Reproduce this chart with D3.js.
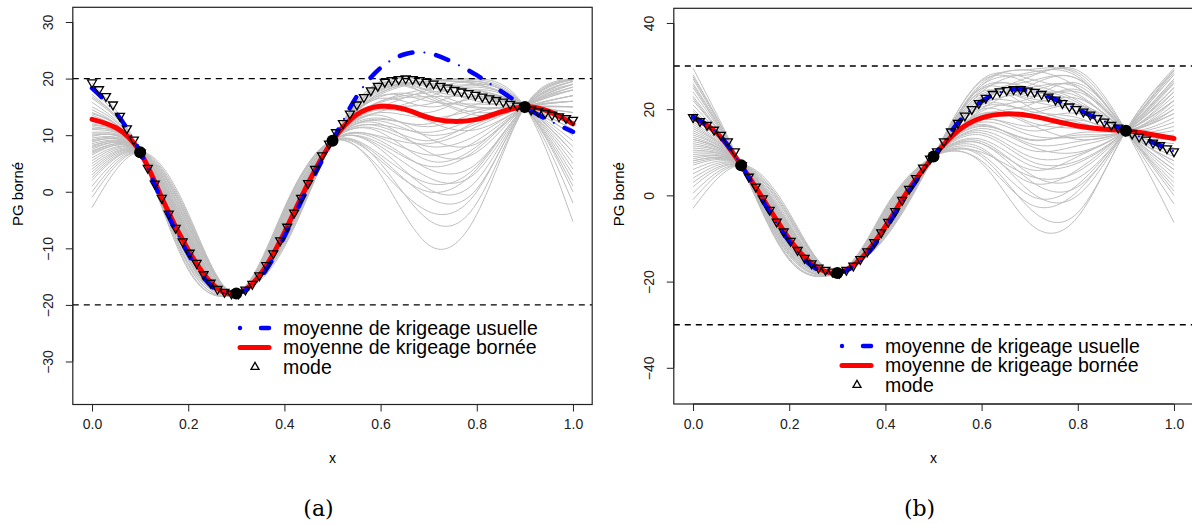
<!DOCTYPE html>
<html><head><meta charset="utf-8">
<script src="https://cdn.jsdelivr.net/npm/d3@7"></script>
<style>body{margin:0;background:#fff;} svg{display:block;}</style>
</head><body><svg id="c" width="1192" height="524"></svg>
<script>
// ---------- data ----------
const obsX = [0.1, 0.3, 0.5, 0.9];
const obsY = [7, -18, 9, 15];
const knotX = [0, 0.1, 0.2, 0.3, 0.4, 0.5, 0.6, 0.7, 0.8, 0.9, 1.0];
const freeKnotX = [0, 0.2, 0.4, 0.6, 0.7, 0.8, 1.0];
const meanX = [0,0.05,0.1,0.15,0.2,0.25,0.3,0.35,0.4,0.45,0.5,0.55,0.6,0.65,0.7,0.75,0.8,0.85,0.9,0.95,1.0];
const xTicks = [0, 0.2, 0.4, 0.6, 0.8, 1.0];
const yTicksA = [-30, -20, -10, 0, 10, 20, 30];
const yTicksB = [-40, -20, 0, 20, 40];
const boundsA = [-20, 20];
const boundsB = [-30, 30];
const legendLabels = ["moyenne de krigeage usuelle", "moyenne de krigeage bornée", "mode"];
const panelTitles = ["(a)", "(b)"];

const blueA = [18.3, 13.9, 7.0, -2.6, -11.0, -16.8, -18.0, -15.2, -7.9, 0.9, 9.0, 16.8, 21.9, 24.3, 24.5, 22.9, 20.6, 17.8, 15.0, 12.6, 10.6];
const redA  = [12.8, 11.3, 7.0, -2.0, -10.3, -16.3, -18.0, -14.6, -7.2, 1.6, 9.0, 13.6, 15.1, 14.6, 13.1, 12.45, 12.8, 14.1, 15.0, 14.2, 12.0];
const modeA = [19.3, 18.1, 16.9, 15.4, 13.4, 11.2, 9.2, 6.9,
  4.2, 1.4, -1.1, -3.9, -6.4, -8.8, -10.8, -12.6, -14.6, -16.1, -17.2, -17.7, -18.0, -18.0,
  -17.3, -16.3, -14.8, -13.0, -10.9, -8.6, -6.2, -3.7, -1.1, 1.5, 4.0, 6.4, 8.5,
  10.5, 12.1, 13.8, 15.4, 16.7, 17.9, 18.7, 19.4, 19.7, 19.9, 20.0, 19.9, 19.7, 19.4, 19.1,
  18.7, 18.4, 18.0, 17.7, 17.4, 17.1, 16.8, 16.5, 16.2, 15.9, 15.5, 15.2, 15.0, 14.5, 14.2,
  13.9, 13.6, 13.3, 13.0, 12.7];

const blueB = [18.2, 14.5, 7.0, -2.2, -10.7, -16.6, -18.0, -15.1, -7.8, 1.0, 9.0, 16.7, 21.8, 24.3, 24.3, 22.4, 19.9, 17.4, 15.0, 12.6, 10.2];
const redB  = [18.0, 14.4, 7.0, -1.6, -10.1, -16.1, -18.0, -14.6, -7.2, 1.6, 9.0, 14.9, 18.0, 18.9, 18.5, 17.3, 16.1, 15.4, 15.0, 14.2, 13.2];
const modeB = [18.1, 17.2, 16.3, 15.2, 14.0, 12.5, 10.2, 7.0,
  4.3, 2.0, -0.7, -3.4, -6.1, -8.4, -10.6, -12.7, -14.5, -15.8, -16.8, -17.3, -17.7, -18.0,
  -17.3, -16.3, -14.8, -13.0, -10.9, -8.6, -6.2, -3.7, -1.1, 1.5, 4.0, 6.4, 8.5,
  10.2, 12.5, 14.8, 16.8, 18.5, 20.0, 21.4, 22.6, 23.5, 24.1, 24.4, 24.6, 24.6, 24.3, 24.0,
  23.5, 22.9, 22.2, 21.4, 20.6, 20.0, 19.4, 18.7, 17.9, 17.1, 16.3, 15.7, 15.0, 14.3, 13.6,
  12.9, 12.2, 11.6, 10.9, 10.2];

// sample paths: values at freeKnotX [0, 0.2, 0.4, 0.6, 0.7, 0.8, 1.0]
const grayA = [
  [19.2,-13.8,-9.5,19.5,19.8,19.0,6],[18.0,-13.0,-8.0,19.0,19.9,19.5,3],[17.2,-12.5,-9.0,18.5,19.0,18.0,9],
  [16.5,-12.8,-7.5,17.5,19.5,19.8,-2],[15.8,-11.5,-8.5,18.8,18.5,17.0,12],[15.0,-12.0,-6.5,16.0,17.5,18.5,5],
  [14.5,-11.0,-7.0,17.0,16.0,15.5,14],[14.0,-11.8,-9.8,19.2,17.0,14.0,16],[13.5,-10.5,-6.0,15.0,18.0,19.5,1],
  [13.0,-11.2,-8.2,17.8,19.2,17.5,10],[12.5,-10.8,-5.5,14.0,13.0,14.5,15],[12.0,-10.0,-7.8,16.5,15.0,16.5,13],
  [11.8,-10.5,-6.8,15.5,12.5,11.0,18],[11.5,-9.5,-8.8,18.0,18.8,16.0,12],[11.0,-10.2,-5.0,12.5,10.0,12.0,17],
  [10.5,-9.8,-7.2,16.8,16.5,13.5,17],[10.2,-9.0,-6.2,13.5,9.5,8.5,19],[10.0,-9.6,-4.5,11.0,8.0,10.0,18],
  [9.5,-8.8,-7.5,17.2,19.5,20.0,-5.3],[9.2,-9.2,-6.0,14.5,14.0,17.0,8],[9.0,-8.5,-3.8,9.0,4.0,5.0,19.5],
  [8.8,-9.0,-8.0,18.2,17.8,15.0,15],[8.5,-8.2,-5.8,13.0,11.5,14.0,14],[8.2,-8.0,-4.2,7.5,0.5,2.0,19.8],
  [8.0,-8.6,-6.5,15.2,13.5,12.5,16],[7.8,-7.8,-3.5,5.0,-5.0,-2.0,19.8],[7.5,-8.4,-7.0,16.0,18.2,18.8,4],
  [7.2,-7.5,-5.2,12.0,7.0,7.0,19],[7.0,-7.8,-6.8,14.8,15.5,18.0,7],[6.8,-7.2,-2.8,3.0,-9.4,-4.0,19.9],
  [6.5,-7.6,-5.5,11.5,9.0,12.5,16],[6.0,-7.0,-4.0,8.0,2.5,3.5,19.5],[5.5,-6.8,-6.2,15.8,16.8,16.8,10],
  [5.0,-6.5,-4.8,10.5,5.5,8.0,18],[4.5,-6.2,-3.2,4.0,-3.5,0.0,19.9],[4.0,-6.0,-5.0,12.8,12.0,15.5,11],
  [3.5,-5.8,-6.0,14.2,16.8,19.0,2],[3.0,-5.5,-4.5,9.5,6.5,9.0,18.5],[2.5,-5.2,-3.0,6.0,-1.0,0.5,19.8],
  [2.0,-5.0,-4.8,11.8,10.5,13.0,15],[1.0,-4.8,-4.0,9.8,8.5,11.5,17],[0.0,-4.5,-3.6,6.5,1.5,4.5,19],
  [-1.0,-4.2,-3.3,8.5,4.5,7.5,18.5],[-2.8,-3.8,-3.0,5.5,0.0,4.0,19.5],[16.8,-13.5,-8.6,19.0,18.0,16.5,11],
  [13.8,-12.0,-9.2,19.5,19.0,17.8,7],[11.2,-11.5,-8.0,18.5,17.2,14.8,13],[9.8,-10.8,-7.2,17.5,19.6,19.2,0]
];
const grayB = [
  [29.5,-15.0,-9.5,24.0,28.5,27.5,4],[28.0,-14.5,-8.5,25.5,29.0,25.0,8],[27.0,-14.0,-9.8,26.5,26.0,22.0,13],
  [26.0,-13.8,-7.8,22.0,27.5,28.5,-2],[25.0,-13.0,-9.0,25.0,24.5,21.0,15],[24.0,-13.2,-7.0,20.0,25.5,27.0,2],
  [23.0,-12.5,-8.2,23.5,22.0,19.5,18],[22.0,-12.8,-9.6,26.8,27.0,23.5,10],[21.0,-12.0,-6.5,18.5,21.0,24.5,6],
  [20.0,-11.8,-8.0,22.5,23.8,23.0,12],[19.0,-11.5,-6.0,17.5,16.0,17.5,20],[18.0,-11.0,-7.5,21.0,19.5,18.0,22],
  [17.0,-11.2,-9.2,25.5,28.0,29.0,-6.3],[16.0,-10.5,-5.5,16.0,13.0,14.0,24],[15.5,-10.8,-7.0,20.5,20.0,21.0,14],
  [15.0,-10.0,-8.8,24.5,25.0,21.5,16],[14.5,-9.8,-5.0,14.5,9.0,9.5,26],[14.0,-10.2,-6.6,19.0,18.0,19.0,17],
  [13.5,-9.5,-4.5,12.5,5.0,4.0,28],[13.0,-9.6,-7.6,22.8,26.5,27.0,0],[12.5,-9.2,-6.2,17.8,15.0,16.5,21],
  [12.0,-8.8,-4.0,11.0,1.0,0.0,29],[11.5,-9.0,-8.0,23.0,22.5,20.5,11],[11.0,-8.5,-5.8,16.5,12.0,12.5,23],
  [10.5,-8.2,-3.6,9.0,-3.0,-4.0,29.5],[10.0,-8.6,-7.2,21.5,21.5,22.5,9],[9.5,-8.0,-5.2,15.0,10.5,11.5,25],
  [9.0,-7.8,-3.2,7.5,-6.5,-5.0,29.0],[8.5,-8.4,-6.8,20.0,17.0,15.5,19],[8.0,-7.5,-4.8,13.0,7.0,7.5,27],
  [7.5,-7.2,-6.0,18.0,19.0,21.0,7],[7.0,-7.0,-4.2,12.0,3.5,2.0,28.5],[6.0,-6.8,-5.8,17.0,14.0,13.5,22],
  [5.0,-6.5,-3.8,10.5,3.0,6.0,26],[4.0,-6.0,-5.0,15.5,11.5,10.0,24],[3.0,-5.5,-3.4,9.5,0.0,2.5,28],
  [2.0,-5.2,-4.6,14.0,8.0,8.0,26.5],[0.5,-4.8,-3.0,8.0,-2.0,1.0,29],[-1.0,-4.5,-4.0,12.0,6.0,9.0,25],
  [-3.0,-4.0,-2.8,10.0,4.5,5.5,27],[27.5,-14.8,-9.0,24.8,23.0,24.0,6],[25.5,-13.5,-8.8,26.0,29.2,28.0,3],
  [22.5,-12.2,-7.2,21.0,24.0,25.5,5],[19.5,-11.0,-8.5,24.0,20.5,17.0,19],[16.5,-10.5,-6.4,19.5,22.5,26.0,1],
  [18.5,-11.6,-7.8,22.0,25.0,25.0,8],[13.0,-9.8,-6.5,18.8,16.5,13.0,22],[8.0,-7.6,-5.4,16.2,12.8,14.5,20]
];

// ---------- drawing ----------
const SANS = "'Liberation Sans', Arial, Helvetica, sans-serif";
const SERIF = "'DejaVu Serif', 'Liberation Serif', serif";
const svg = d3.select("#c");
const modeX = d3.range(modeA.length).map(i => i / (modeA.length - 1));

function knots(c) {
  const vals = new Map();
  freeKnotX.forEach((xv, i) => vals.set(xv, c[i]));
  obsX.forEach((xv, i) => vals.set(xv, obsY[i]));
  return knotX.map(xv => [xv, vals.get(xv)]);
}

function drawPanel(P) {
  const g = svg.append("g");
  const x = d3.scaleLinear().domain([-0.04, 1.04]).range([P.left, P.right]);
  const y = d3.scaleLinear().domain(P.yDomain).range([P.bottom, P.top]);
  const line = d3.line().x(d => x(d[0])).y(d => y(d[1])).curve(d3.curveNatural);

  const clipId = "clip" + P.id;
  svg.append("clipPath").attr("id", clipId).append("rect")
    .attr("x", P.left).attr("y", P.top).attr("width", P.right - P.left).attr("height", P.bottom - P.top);
  const plot = g.append("g").attr("clip-path", `url(#${clipId})`);

  plot.selectAll("path.gray").data(P.gray).join("path").attr("class", "gray")
    .attr("d", c => line(knots(c)))
    .attr("fill", "none").attr("stroke", "#bebebe").attr("stroke-width", 1);

  plot.selectAll("line.bound").data(P.bounds).join("line").attr("class", "bound")
    .attr("x1", P.left).attr("x2", P.right).attr("y1", d => y(d)).attr("y2", d => y(d))
    .attr("stroke", "#000").attr("stroke-width", 1.4).attr("stroke-dasharray", "6,5");

  plot.append("path").attr("d", line(meanX.map((xv, i) => [xv, P.red[i]])))
    .attr("fill", "none").attr("stroke", "#ff0000").attr("stroke-width", 5)
    .attr("stroke-linecap", "round");

  const blueD = line(meanX.map((xv, i) => [xv, P.blue[i]]));
  plot.append("path").attr("d", blueD)
    .attr("fill", "none").attr("stroke", "#0000ff").attr("stroke-width", 4.5)
    .attr("stroke-linecap", "round").attr("stroke-dasharray", "13,24");
  plot.append("path").attr("d", blueD)
    .attr("fill", "none").attr("stroke", "#0000ff").attr("stroke-width", 2)
    .attr("stroke-linecap", "round").attr("stroke-dasharray", "0.1,36.9").attr("stroke-dashoffset", -25);

  const tri = "M0,5.2L4.5,-2.6L-4.5,-2.6Z";
  plot.selectAll("path.mode").data(P.mode).join("path").attr("class", "mode")
    .attr("transform", (d, i) => `translate(${x(modeX[i])},${y(d)})`)
    .attr("d", tri).attr("fill", "none").attr("stroke", "#000").attr("stroke-width", 1.3);

  plot.selectAll("circle.obs").data(obsX).join("circle").attr("class", "obs")
    .attr("cx", d => x(d)).attr("cy", (d, i) => y(obsY[i])).attr("r", 6).attr("fill", "#000");

  g.append("rect").attr("x", P.left).attr("y", P.top).attr("width", P.right - P.left)
    .attr("height", P.bottom - P.top).attr("fill", "none").attr("stroke", "#222").attr("stroke-width", 1.2);

  const ax = g.append("g").attr("transform", `translate(0,${P.bottom})`)
    .call(d3.axisBottom(x).tickValues(xTicks).tickFormat(d3.format(".1f")).tickSize(7).tickPadding(8));
  ax.select(".domain").attr("d", `M${x(0)},0H${x(1)}`).attr("stroke", "#222");
  ax.selectAll("text").style("font-size", "14px").style("font-family", SANS).attr("fill", "#222");
  ax.selectAll(".tick line").attr("stroke", "#222");

  const ay = g.append("g").attr("transform", `translate(${P.left},0)`)
    .call(d3.axisLeft(y).tickValues(P.yTicks).tickFormat(d3.format("d")).tickSize(7));
  ay.select(".domain").attr("d", `M0,${y(P.yTicks[0])}V${y(P.yTicks[P.yTicks.length - 1])}`).attr("stroke", "#222");
  ay.selectAll(".tick line").attr("stroke", "#222");
  ay.selectAll("text").attr("x", null).attr("dy", "0.35em").attr("text-anchor", "middle")
    .attr("transform", "translate(-25,0) rotate(-90)")
    .style("font-size", "14px").style("font-family", SANS).attr("fill", "#222");

  g.append("text").attr("x", x(0.5)).attr("y", 463).attr("text-anchor", "middle")
    .style("font-size", "14px").style("font-family", SANS).text("x");
  g.append("text").attr("transform", `translate(${P.left - 50},${(P.top + P.bottom) / 2 - 12}) rotate(-90)`)
    .attr("text-anchor", "middle").style("font-size", "15px").style("font-family", SANS).text("PG borné");
  g.append("text").attr("x", x(0.5) - 14).attr("y", 516).attr("text-anchor", "middle")
    .style("font-family", SERIF).style("font-size", "22px").text(P.title);

  // legend
  const L = g.append("g").attr("transform", `translate(${P.legX},${P.legY})`);
  const rowH = 19.5;
  L.append("circle").attr("cx", 0).attr("cy", 0).attr("r", 2.2).attr("fill", "#0000ff");
  L.append("line").attr("x1", 21).attr("x2", 29).attr("y1", 0).attr("y2", 0)
    .attr("stroke", "#0000ff").attr("stroke-width", 4.5).attr("stroke-linecap", "round");
  L.append("line").attr("x1", 0).attr("x2", 29).attr("y1", rowH).attr("y2", rowH)
    .attr("stroke", "#ff0000").attr("stroke-width", 5).attr("stroke-linecap", "round");
  L.append("path").attr("transform", `translate(15,${2 * rowH})`).attr("d", "M0,-4.6L4,2.3L-4,2.3Z")
    .attr("fill", "none").attr("stroke", "#000").attr("stroke-width", 1.3);
  L.selectAll("text.leg").data(legendLabels).join("text").attr("class", "leg")
    .attr("x", 43).attr("y", (d, i) => i * rowH).attr("dy", "0.35em")
    .style("font-size", "19.5px").style("font-family", SANS).text(d => d);
}

drawPanel({id: "a", left: 72.8, right: 592.2, top: 7.3, bottom: 404.5, yDomain: [-37.6, 32.6],
  yTicks: yTicksA, bounds: boundsA, gray: grayA, blue: blueA, red: redA, mode: modeA,
  title: panelTitles[0], legX: 240, legY: 328});
drawPanel({id: "b", left: 673.8, right: 1193.2, top: 8.3, bottom: 404, yDomain: [-48.4, 43.4],
  yTicks: yTicksB, bounds: boundsB, gray: grayB, blue: blueB, red: redB, mode: modeB,
  title: panelTitles[1], legX: 842, legY: 346});
</script></body></html>
